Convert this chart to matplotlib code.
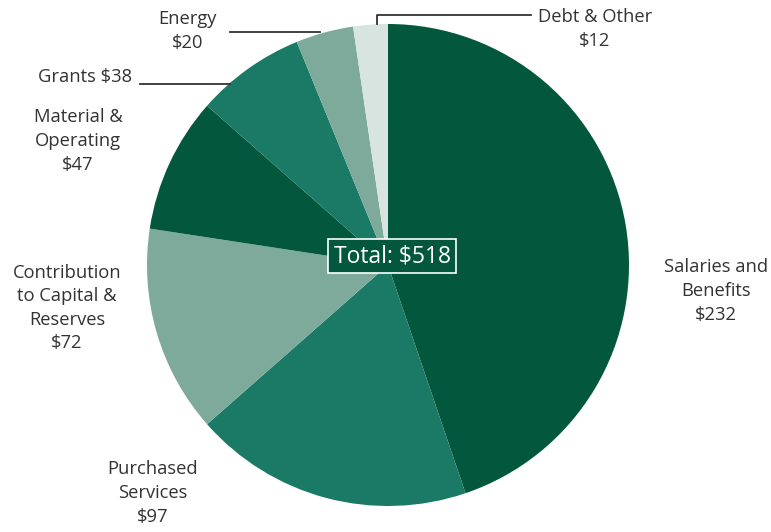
import matplotlib.pyplot as plt

labels = ['Salaries and\nBenefits\n$232', 'Purchased\nServices\n$97',
          'Contribution\nto Capital &\nReserves\n$72', 'Material &\nOperating\n$47',
          'Grants $38', 'Energy\n$20', 'Debt & Other\n$12']
values = [232, 97, 72, 47, 38, 20, 12]
colors = ['#03573C', '#1A7A66', '#7DAA9B', '#03573C', '#1A7A66', '#7DAA9B', '#D7E4DF']
total = 518

W, H = 771, 532
fig = plt.figure(figsize=(W / 100, H / 100), dpi=100)
ax = fig.add_axes([0, 0, 1, 1])

cx, cy, r = 388, H - 265, 241
ax.pie(values, colors=colors, startangle=90, counterclock=False,
       center=(cx, cy), radius=r, wedgeprops=dict(linewidth=0), frame=True)
ax.set_xlim(0, W)
ax.set_ylim(0, H)
ax.set_aspect('equal')
ax.axis('off')

font = dict(family='Open Sans', color='#333333', fontsize=13.2, ha='center', va='center',
            linespacing=1.4)

# label centres in pixels (x, y from top)
pos = [(716, 291), (153, 493), (67, 308), (78, 141), (85, 77), (188, 31), (595, 29)]
for lab, (x, y) in zip(labels, pos):
    ax.text(x, H - y, lab, **font)

# leader lines
ax.plot([377, 377, 531], [H - 24, H - 15, H - 15], color='#333333', lw=1.3)
ax.plot([230, 320], [H - 32, H - 32], color='#333333', lw=1.3)
ax.plot([140, 230], [H - 84, H - 84], color='#333333', lw=1.3)

ax.text(392, H - 256, 'Total: $%d' % total, family='Open Sans', color='white',
        fontsize=16.5, ha='center', va='center',
        bbox=dict(boxstyle='square,pad=0.22', facecolor='#03573C', edgecolor='white', lw=1.2))

fig.savefig('out.png', dpi=100)
